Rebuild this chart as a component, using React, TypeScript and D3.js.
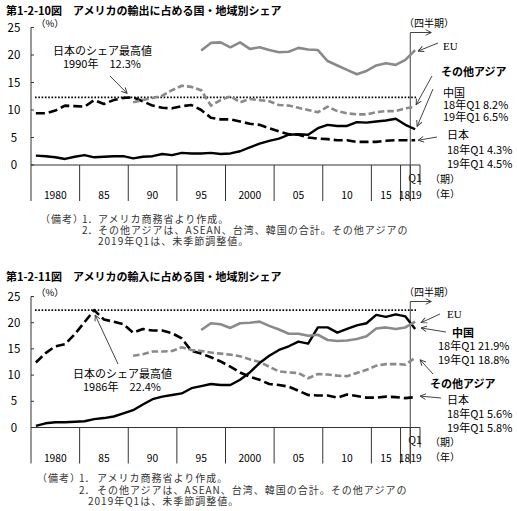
import React from 'react';
import * as d3 from 'd3';

// category axis: annual 1980-2018, then the first quarter of 2019
const categories = [
  '1980', '1981', '1982', '1983', '1984', '1985', '1986', '1987', '1988', '1989',
  '1990', '1991', '1992', '1993', '1994', '1995', '1996', '1997', '1998', '1999',
  '2000', '2001', '2002', '2003', '2004', '2005', '2006', '2007', '2008', '2009',
  '2010', '2011', '2012', '2013', '2014', '2015', '2016', '2017', '2018', '2019Q1',
];
const groupLabels = ['1980', '85', '90', '95', '2000', '05', '10', '15', '18', '19'];
const groupSizes = [5, 5, 5, 5, 5, 5, 5, 3, 1, 1];
const quarterLabel = 'Q1';
const yTicks = [0, 5, 10, 15, 20, 25];

type Series = (number | null)[];

// exports share (%)
const japanExports: Series = [
  9.4, 9.4, 9.9, 10.8, 10.7, 10.6, 11.8, 11.1, 11.8, 12.2,
  12.3, 11.6, 10.8, 10.4, 10.3, 10.7, 10.9, 10.0, 8.6, 8.3,
  8.3, 7.9, 7.5, 7.3, 6.7, 6.1, 5.6, 5.5, 5.0, 4.8,
  4.7, 4.5, 4.5, 4.2, 4.2, 4.2, 4.4, 4.5, 4.5, 4.5,
];
const chinaExports: Series = [
  1.7, 1.6, 1.4, 1.1, 1.5, 1.8, 1.4, 1.5, 1.6, 1.6,
  1.2, 1.5, 1.6, 2.0, 1.8, 2.2, 2.1, 2.1, 2.2, 2.0,
  2.1, 2.5, 3.2, 3.9, 4.4, 4.8, 5.5, 5.6, 5.5, 6.7,
  7.3, 7.1, 7.1, 7.8, 7.7, 7.9, 8.1, 8.4, 7.3, 6.5,
];
const otherAsiaExports: Series = [
  null, null, null, null, null, null, null, null, null, null,
  11.4, 11.8, 12.2, 12.6, 13.6, 14.4, 14.2, 13.6, 10.8, 11.8,
  12.5, 11.4, 12.0, 11.8, 11.6, 10.9, 10.8, 10.4, 10.0, 9.6,
  10.6, 9.8, 9.4, 9.2, 9.2, 9.6, 9.8, 9.8, 10.3, 10.6,
];
const euExports: Series = [
  null, null, null, null, null, null, null, null, null, null,
  null, null, null, null, null, null, null, 20.8, 22.2, 22.3,
  21.4, 22.3, 21.1, 21.4, 20.9, 20.5, 20.6, 21.3, 21.0, 20.9,
  18.9, 18.1, 17.3, 16.5, 17.1, 18.1, 18.5, 18.2, 19.1, 20.9,
];
const chinaExports18Q1 = 8.2;
const japanExports18Q1 = 4.3;

// imports share (%)
const japanImports: Series = [
  12.4, 14.2, 15.5, 15.9, 17.8, 20.1, 22.4, 20.6, 20.2, 19.7,
  18.1, 18.8, 18.5, 18.5, 18.0, 17.0, 14.6, 14.1, 13.4, 12.6,
  11.6, 10.5, 9.7, 9.1, 8.3, 8.1, 7.8, 7.0, 6.2, 6.1,
  6.1, 5.7, 6.3, 6.0, 5.7, 5.7, 5.9, 5.8, 5.6, 5.8,
];
const chinaImports: Series = [
  0.3, 0.8, 1.0, 1.0, 1.1, 1.2, 1.6, 1.8, 2.1, 2.7,
  3.3, 4.4, 5.4, 5.9, 6.2, 6.5, 7.5, 7.9, 8.3, 8.1,
  8.1, 9.1, 10.5, 12.3, 13.7, 14.8, 15.5, 16.4, 16.0, 19.1,
  19.1, 18.1, 18.8, 19.5, 19.9, 21.5, 21.1, 21.6, 21.2, 18.8,
];
const otherAsiaImports: Series = [
  null, null, null, null, null, null, null, null, null, null,
  13.7, 14.0, 14.5, 14.5, 14.6, 15.3, 14.8, 14.6, 14.3, 14.1,
  13.9, 13.6, 13.0, 12.5, 11.6, 10.7, 10.5, 10.4, 9.4, 10.2,
  10.1, 9.9, 9.8, 10.4, 11.0, 11.8, 12.1, 12.1, 12.0, 13.3,
];
const euImports: Series = [
  null, null, null, null, null, null, null, null, null, null,
  null, null, null, null, null, null, null, 18.6, 19.9, 19.7,
  19.0, 19.9, 20.0, 20.2, 19.4, 18.7, 17.9, 17.9, 17.5, 17.7,
  16.7, 16.5, 16.6, 16.9, 17.4, 18.9, 19.1, 18.8, 19.1, 20.2,
];
const chinaImports18Q1 = 21.9;
const japanImports18Q1 = 5.6;

const JP = "'Noto Sans CJK JP', 'Noto Sans', sans-serif";
const SERIF = "'Liberation Serif', 'DejaVu Serif', serif";
const GRAY = '#8a8a8a';
const AXIS = '#333';

type Key = 'japan' | 'china' | 'otherAsia' | 'eu';

// a label block: first line at (x, y), following lines stacked below
interface Label { lines: string[]; x: number; y: number; step?: number; bold?: boolean; serif?: boolean }
interface Pointer { x1: number; y1: number; key: Key; dx: number; dy: number }

interface PanelProps {
  title: string;
  titleY: number;
  top: number;
  bottom: number;
  series: Record<Key, Series>;
  labels: Label[];
  pointers: Pointer[];
  peakText: { x: number; y: number; from: [number, number]; dx: number; dy: number };
  notes: { y: number[]; x0: number; x1: number; x2: number; x3: number };
}

const Panel: React.FC<PanelProps> = ({ title, titleY, top, bottom, series, labels, pointers, peakText, notes }) => {
  const left = 31;
  const right = 420;
  const x = d3.scaleBand<string>().domain(categories).range([left, right]).padding(0);
  const bw = x.bandwidth();
  const cx = (i: number) => (x(categories[i]) as number) + bw / 2;
  const y = d3.scaleLinear().domain([0, 25]).range([bottom, top]);

  const line = d3.line<number | null>()
    .defined(v => v != null)
    .x((_, i) => cx(i))
    .y(v => y(v as number));

  const peak = d3.max(series.japan as number[]) as number;
  const peakIdx = series.japan.indexOf(peak);
  const last = categories.length - 1;
  const quarterX = x(categories[last]) as number;

  // group separators under the axis
  const starts: number[] = [];
  groupSizes.reduce((acc, n) => { starts.push(acc); return acc + n; }, 0);
  // the two one-year groups at the end sit side by side, nudge them apart
  const nudge = (gi: number) => (gi === groupLabels.length - 2 ? -1 : gi === groupLabels.length - 1 ? 1 : 0);

  return (
    <g>
      <text x={6} y={titleY} fontFamily={JP} fontWeight={700} fontSize={11}>{title}</text>
      <text x={36} y={top - 0.5} fontFamily={JP} fontSize={9.5}>（%）</text>

      {/* y axis */}
      <line x1={left} x2={left} y1={top} y2={bottom + 36} stroke={AXIS} />
      {yTicks.map(t => (
        <g key={t}>
          <line x1={left} x2={left + 3} y1={y(t)} y2={y(t)} stroke={AXIS} />
          <text x={14} y={y(t)} dy="0.35em" textAnchor="middle" fontFamily={JP} fontSize={11.5}>{t}</text>
        </g>
      ))}

      {/* x axis with grouped year labels */}
      <line x1={left} x2={right} y1={bottom} y2={bottom} stroke={AXIS} />
      {starts.map((s, gi) => {
        const gx = x(categories[s]) as number;
        return (
          <g key={gi}>
            {s > 0 && <line x1={gx} x2={gx} y1={bottom} y2={bottom + 36} stroke={AXIS} />}
            <text x={gx + (groupSizes[gi] * bw) / 2 + nudge(gi)} y={bottom + 34} textAnchor="middle" fontFamily={JP} fontSize={10.3}>
              {groupLabels[gi]}
            </text>
          </g>
        );
      })}
      <line x1={right} x2={right} y1={bottom} y2={bottom + 20} stroke={AXIS} />
      <text x={cx(last)} y={bottom + 16.5} textAnchor="middle" fontFamily={JP} fontSize={10.5}>{quarterLabel}</text>
      <text fontFamily={JP} fontSize={10}>
        <tspan x={430} y={bottom + 18}>（期）</tspan>
        <tspan x={430} y={bottom + 33}>（年）</tspan>
      </text>

      {/* quarterly section marker */}
      <line x1={quarterX} x2={quarterX} y1={top + 5} y2={bottom + 36} stroke="#444" />
      <line x1={quarterX} x2={quarterX + 21} y1={top + 5} y2={top + 5} stroke="#444" markerEnd="url(#arr)" />
      <text x={404} y={top - 0.5} fontFamily={JP} fontSize={10}>（四半期）</text>

      {/* Japan's peak share */}
      <line x1={left + 4} x2={416} y1={y(peak)} y2={y(peak)} stroke="#000" strokeWidth={1.8} strokeDasharray="1.6 1.7" />

      <path d={line(series.japan) ?? ''} fill="none" stroke="#000" strokeWidth={2.6} strokeDasharray="9 4" strokeLinejoin="round" />
      <path d={line(series.otherAsia) ?? ''} fill="none" stroke={GRAY} strokeWidth={2.6} strokeDasharray="6.5 3" strokeLinejoin="round" />
      <path d={line(series.china) ?? ''} fill="none" stroke="#000" strokeWidth={2.4} strokeLinejoin="round" />
      <path d={line(series.eu) ?? ''} fill="none" stroke={GRAY} strokeWidth={2.6} strokeLinejoin="round" />

      <text fontFamily={JP} fontSize={11}>
        <tspan x={peakText.x} y={peakText.y}>日本のシェア最高値</tspan>
        <tspan x={peakText.x + 10} y={peakText.y + 13}>{`${categories[peakIdx]}年　${peak}%`}</tspan>
      </text>
      <line x1={peakText.from[0]} y1={peakText.from[1]} x2={cx(peakIdx) + peakText.dx} y2={y(peak) + peakText.dy}
        stroke="#444" markerEnd="url(#arr)" />

      {labels.map((l, i) => (
        <text key={i} fontFamily={l.serif ? SERIF : JP} fontWeight={l.bold ? 700 : 400} fontSize={11}>
          {l.lines.map((s, j) => (
            <tspan key={j} x={l.x} y={l.y + j * (l.step ?? 12)}>{s}</tspan>
          ))}
        </text>
      ))}
      {pointers.map((p, i) => (
        <line key={i} x1={p.x1} y1={p.y1} x2={cx(last) + p.dx} y2={y(series[p.key][last] as number) + p.dy}
          stroke="#444" markerEnd="url(#arr)" />
      ))}

      <text fontFamily={JP} fontSize={10} letterSpacing={1} fill="#333">
        <tspan x={notes.x0} y={notes.y[0]}>（備考）</tspan>
        <tspan x={notes.x1} y={notes.y[0]} letterSpacing={0}>1．</tspan>
        <tspan x={notes.x2} y={notes.y[0]}>アメリカ商務省より作成。</tspan>
        <tspan x={notes.x1} y={notes.y[1]} letterSpacing={0}>2．</tspan>
        <tspan x={notes.x2} y={notes.y[1]}>その他アジアは、ASEAN、台湾、韓国の合計。その他アジアの</tspan>
        <tspan x={notes.x3} y={notes.y[2]}>2019年Q1は、未季節調整値。</tspan>
      </text>
    </g>
  );
};

const App: React.FC = () => {
  const exportsSeries = { japan: japanExports, china: chinaExports, otherAsia: otherAsiaExports, eu: euExports };
  const importsSeries = { japan: japanImports, china: chinaImports, otherAsia: otherAsiaImports, eu: euImports };

  return (
    <div style={{ position: 'absolute', left: 0, top: 0 }}>
      <svg width={517} height={511} style={{ display: 'block', background: '#fff' }}>
        <defs>
          <marker id="arr" viewBox="0 0 10 10" refX={9} refY={5} markerWidth={7} markerHeight={7} orient="auto">
            <path d="M1,1 L9,5 L1,9" fill="none" stroke="#333" strokeWidth={1.3} />
          </marker>
        </defs>

        <Panel
          title="第1-2-10図　アメリカの輸出に占める国・地域別シェア"
          titleY={15}
          top={27.5}
          bottom={165}
          series={exportsSeries}
          peakText={{ x: 53, y: 55, from: [110, 76], dx: -6, dy: -4 }}
          labels={[
            { lines: ['EU'], x: 443, y: 50, serif: true },
            { lines: ['その他アジア'], x: 441, y: 76, bold: true },
            { lines: ['中国', `18年Q1 ${chinaExports18Q1}%`, `19年Q1 ${chinaExports[39]}%`], x: 443, y: 97 },
            { lines: ['日本', `18年Q1 ${japanExports18Q1}%`, `19年Q1 ${japanExports[39]}%`], x: 447, y: 139, step: 14.5 },
          ]}
          pointers={[
            { x1: 438, y1: 43, key: 'eu', dx: 3, dy: 1 },
            { x1: 432, y1: 76, key: 'otherAsia', dx: 1, dy: -2 },
            { x1: 433, y1: 89, key: 'china', dx: 2, dy: -3 },
            { x1: 437, y1: 137, key: 'japan', dx: 3, dy: 0 },
          ]}
          notes={{ y: [223, 234, 245], x0: 40, x1: 82, x2: 98, x3: 98 }}
        />

        <Panel
          title="第1-2-11図　アメリカの輸入に占める国・地域別シェア"
          titleY={281}
          top={296.5}
          bottom={427.5}
          series={importsSeries}
          peakText={{ x: 73, y: 378, from: [118, 364], dx: 1, dy: 5 }}
          labels={[
            { lines: ['EU'], x: 447, y: 318, serif: true },
            { lines: ['中国'], x: 452, y: 337, bold: true },
            { lines: [`18年Q1 ${chinaImports18Q1}%`, `19年Q1 ${chinaImports[39]}%`], x: 438, y: 350, step: 14 },
            { lines: ['その他アジア'], x: 430, y: 388, bold: true },
            { lines: ['日本', `18年Q1 ${japanImports18Q1}%`, `19年Q1 ${japanImports[39]}%`], x: 447, y: 404, step: 14 },
          ]}
          pointers={[
            { x1: 440, y1: 314, key: 'eu', dx: 6, dy: 1 },
            { x1: 446, y1: 332, key: 'china', dx: 6, dy: -1 },
            { x1: 433, y1: 374, key: 'otherAsia', dx: 5, dy: 2 },
            { x1: 441, y1: 398, key: 'japan', dx: 5, dy: -1 },
          ]}
          notes={{ y: [482, 493.5, 505], x0: 37, x1: 79, x2: 97, x3: 88 }}
        />
      </svg>
    </div>
  );
};

export default App;
